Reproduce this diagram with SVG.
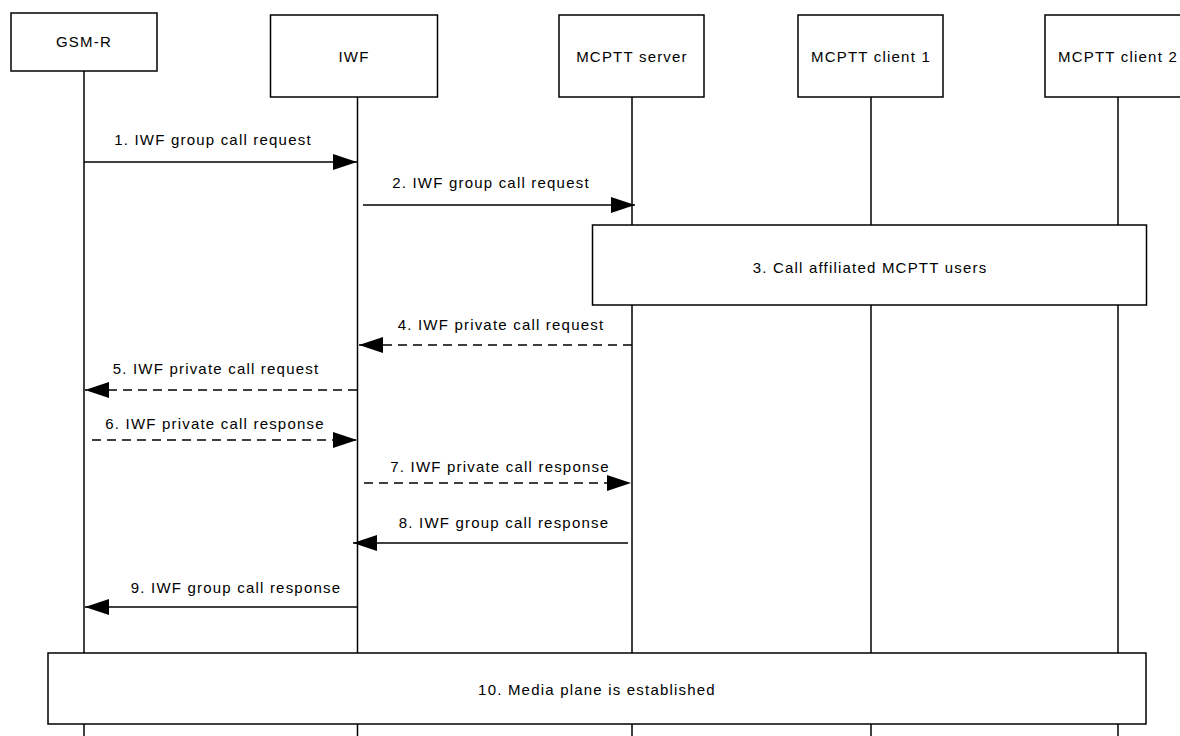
<svg xmlns="http://www.w3.org/2000/svg" width="1180" height="736" viewBox="0 0 1180 736">
<style>
.box{fill:#fff;stroke:#000;stroke-width:1.5}
.life{stroke:#000;stroke-width:1.5;fill:none}
.msg{stroke:#000;stroke-width:1.5;fill:none}
.dash{stroke-dasharray:9 6}
text{font-family:"Liberation Sans",Arial,sans-serif;font-size:15px;letter-spacing:1.2px;fill:#000;text-anchor:middle}
</style>
<defs>
<marker id="ah" markerUnits="userSpaceOnUse" markerWidth="26" markerHeight="18" refX="24" refY="8" orient="auto">
<path d="M0,0 L24,8 L0,16 Z" fill="#000"/>
</marker>
</defs>
<g id="lifelines">
<line class="life" x1="84" y1="71" x2="84" y2="736"/>
<line class="life" x1="357.5" y1="97" x2="357.5" y2="736"/>
<line class="life" x1="632" y1="97" x2="632" y2="736"/>
<line class="life" x1="871" y1="97" x2="871" y2="736"/>
<line class="life" x1="1118" y1="97" x2="1118" y2="736"/>
</g>
<g id="gsmr"><rect class="box" x="11" y="13" width="146" height="58"/><text x="84" y="47">GSM-R</text></g>
<g id="iwf"><rect class="box" x="270.5" y="15" width="167" height="82"/><text x="354" y="62">IWF</text></g>
<g id="server"><rect class="box" x="559" y="15" width="145" height="82"/><text x="632" y="62">MCPTT server</text></g>
<g id="client1"><rect class="box" x="798" y="15" width="145" height="82"/><text x="871" y="62">MCPTT client 1</text></g>
<g id="client2"><rect class="box" x="1045" y="15" width="146" height="82"/><text x="1118" y="62">MCPTT client 2</text></g>
<g id="step3"><rect class="box" x="592.5" y="225" width="554" height="80"/><text x="870" y="273">3. Call affiliated MCPTT users</text></g>
<g id="step10"><rect class="box" x="48" y="653" width="1098" height="71"/><text x="597" y="695">10. Media plane is established</text></g>
<g id="connectors">
<line class="msg" x1="84" y1="162" x2="357" y2="162" marker-end="url(#ah)"/>
<line class="msg" x1="363" y1="205" x2="635" y2="205" marker-end="url(#ah)"/>
<line class="msg dash" x1="632" y1="345" x2="359" y2="345" marker-end="url(#ah)"/>
<line class="msg dash" x1="357" y1="390" x2="85" y2="390" marker-end="url(#ah)"/>
<line class="msg dash" x1="92" y1="440" x2="357" y2="440" marker-end="url(#ah)"/>
<line class="msg dash" x1="364" y1="483" x2="631" y2="483" marker-end="url(#ah)"/>
<line class="msg" x1="628" y1="543" x2="353" y2="543" marker-end="url(#ah)"/>
<line class="msg" x1="357" y1="607" x2="85" y2="607" marker-end="url(#ah)"/>
</g>
<g id="labels">
<text x="213" y="145">1. IWF group call request</text>
<text x="491" y="188">2. IWF group call request</text>
<text x="501" y="330">4. IWF private call request</text>
<text x="216" y="374">5. IWF private call request</text>
<text x="215" y="429">6. IWF private call response</text>
<text x="500" y="472">7. IWF private call response</text>
<text x="504" y="528">8. IWF group call response</text>
<text x="236" y="593">9. IWF group call response</text>
</g>
</svg>
